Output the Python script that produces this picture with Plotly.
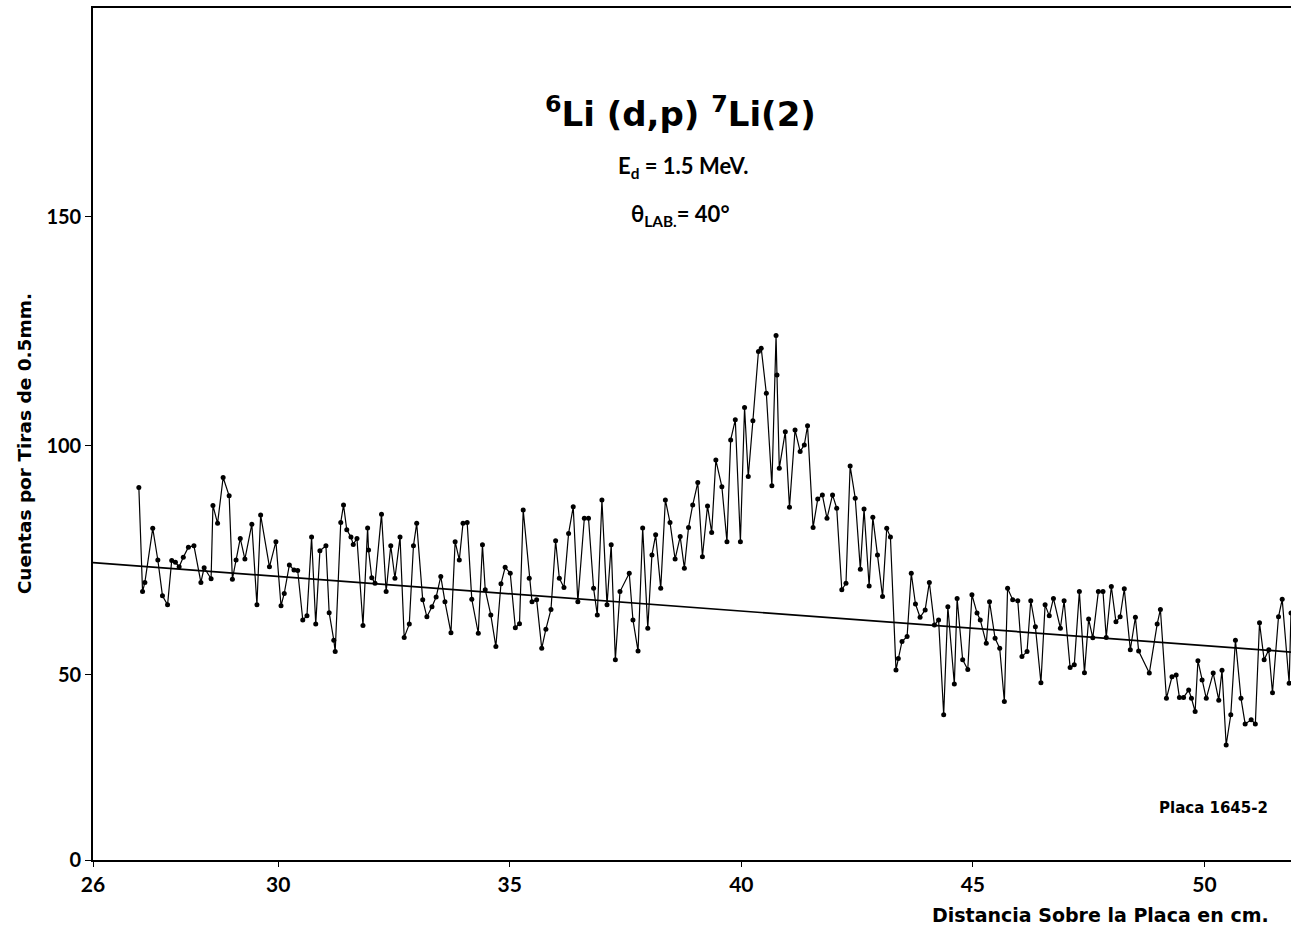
import plotly.graph_objects as go

# Position on the plate (cm) and counts per 0.5 mm strip
x_cm = [26.99, 27.07, 27.12, 27.29, 27.40, 27.50, 27.61, 27.70, 27.78, 27.86,
        27.95, 28.06, 28.18, 28.33, 28.40, 28.55, 28.59, 28.69, 28.81, 28.94,
        29.01, 29.09, 29.18, 29.28, 29.43, 29.54, 29.62, 29.81, 29.95, 30.06,
        30.13, 30.24, 30.34, 30.42, 30.53, 30.62, 30.72, 30.81, 30.90, 31.03,
        31.10, 31.20, 31.23, 31.35, 31.41, 31.48, 31.57, 31.62, 31.70, 31.83,
        31.93, 31.95, 32.02, 32.09, 32.23, 32.33, 32.43, 32.52, 32.63, 32.72,
        32.83, 32.92, 32.99, 33.12, 33.21, 33.32, 33.41, 33.51, 33.60, 33.73,
        33.82, 33.91, 33.99, 34.08, 34.18, 34.32, 34.41, 34.47, 34.59, 34.70,
        34.81, 34.90, 35.01, 35.12, 35.21, 35.29, 35.42, 35.48, 35.58, 35.69,
        35.78, 35.89, 35.99, 36.07, 36.17, 36.27, 36.37, 36.47, 36.61, 36.70,
        36.81, 36.89, 36.99, 37.10, 37.19, 37.28, 37.38, 37.58, 37.66, 37.77,
        37.87, 37.98, 38.07, 38.15, 38.26, 38.36, 38.46, 38.57, 38.68, 38.77,
        38.86, 38.95, 39.06, 39.16, 39.27, 39.36, 39.45, 39.58, 39.69, 39.77,
        39.87, 39.98, 40.07, 40.15, 40.25, 40.37, 40.43, 40.54, 40.66, 40.75,
        40.77, 40.82, 40.95, 41.04, 41.16, 41.27, 41.36, 41.43, 41.55, 41.65,
        41.75, 41.85, 41.97, 42.06, 42.17, 42.26, 42.35, 42.46, 42.57, 42.65,
        42.76, 42.84, 42.94, 43.05, 43.14, 43.22, 43.34, 43.39, 43.47, 43.58,
        43.67, 43.76, 43.86, 43.97, 44.06, 44.17, 44.26, 44.37, 44.46, 44.60,
        44.66, 44.78, 44.89, 44.98, 45.09, 45.16, 45.29, 45.36, 45.48, 45.58,
        45.68, 45.75, 45.86, 45.97, 46.06, 46.17, 46.25, 46.35, 46.47, 46.56,
        46.65, 46.74, 46.89, 46.97, 47.10, 47.19, 47.30, 47.41, 47.50, 47.59,
        47.71, 47.81, 47.88, 47.99, 48.09, 48.18, 48.27, 48.40, 48.51, 48.58,
        48.81, 48.98, 49.05, 49.18, 49.30, 49.39, 49.46, 49.55, 49.66, 49.72,
        49.80, 49.86, 49.95, 50.04, 50.19, 50.31, 50.38, 50.47, 50.57, 50.67,
        50.79, 50.88, 51.01, 51.10, 51.19, 51.29, 51.39, 51.47, 51.60, 51.68,
        51.83, 51.87]

counts = [90.9, 68.2, 70.2, 82.0, 75.1, 67.3, 65.3, 75.0, 74.6, 73.6,
          75.7, 77.9, 78.2, 70.2, 73.4, 71.0, 87.0, 83.1, 93.1, 89.1,
          70.9, 75.1, 79.8, 75.3, 82.9, 65.3, 84.9, 73.6, 79.1, 65.1,
          67.8, 74.0, 72.9, 72.8, 62.0, 62.9, 80.1, 61.1, 77.1, 78.2,
          63.6, 57.6, 55.1, 83.3, 87.1, 81.7, 80.1, 78.5, 79.8, 60.8,
          82.1, 77.3, 71.2, 70.0, 85.1, 68.2, 78.2, 71.1, 80.1, 58.2,
          61.1, 78.2, 83.1, 66.4, 62.7, 64.9, 67.0, 71.5, 66.0, 59.2,
          79.1, 75.1, 83.1, 83.3, 66.5, 59.1, 78.4, 68.6, 63.1, 56.2,
          69.9, 73.5, 72.2, 60.3, 61.2, 86.0, 71.1, 66.0, 66.4, 55.8,
          60.0, 64.3, 79.3, 71.1, 69.1, 80.9, 86.7, 66.0, 84.2, 84.2,
          68.9, 63.1, 88.2, 65.3, 78.4, 53.3, 68.2, 72.2, 62.0, 55.2,
          82.1, 60.2, 76.2, 80.6, 68.9, 88.2, 83.3, 75.3, 80.2, 73.3,
          82.2, 87.1, 92.0, 75.8, 86.9, 81.1, 96.9, 91.1, 79.1, 101.3,
          105.7, 79.1, 108.4, 93.3, 105.5, 120.6, 121.3, 111.5, 91.3, 124.1,
          115.5, 95.1, 103.1, 86.6, 103.5, 98.8, 100.2, 104.4, 82.2, 88.4,
          89.3, 84.2, 89.3, 86.4, 68.6, 70.0, 95.6, 88.6, 73.1, 86.2,
          69.4, 84.4, 76.2, 67.1, 82.0, 80.1, 51.1, 53.6, 57.3, 58.4,
          72.2, 65.5, 62.6, 64.2, 70.2, 60.9, 62.0, 41.3, 64.9, 48.0,
          66.7, 53.3, 51.2, 67.5, 63.5, 62.0, 56.9, 66.0, 58.0, 55.8,
          44.2, 68.9, 66.4, 66.2, 54.0, 55.1, 66.2, 60.5, 48.3, 65.3,
          62.9, 66.7, 60.2, 66.2, 51.6, 52.2, 68.2, 50.5, 62.2, 58.1,
          68.2, 68.2, 58.2, 69.3, 61.6, 62.7, 68.8, 55.5, 62.6, 55.2,
          50.4, 61.1, 64.3, 44.9, 49.6, 50.0, 45.1, 45.1, 46.7, 44.9,
          42.0, 53.1, 48.9, 44.9, 50.4, 44.5, 51.0, 34.7, 41.3, 57.6,
          44.9, 39.3, 40.2, 39.3, 61.4, 53.3, 55.5, 46.1, 62.7, 66.5,
          48.2, 63.5]

assert len(x_cm) == len(counts), (len(x_cm), len(counts))

# Background straight line (endpoints)
bg_x = [26.0, 51.87]
bg_y = [74.5, 55.0]

# Axis: the original has a compressed 0-50 segment; the baseline is labelled "0"
y_base = 9.6
y_tickvals = [y_base, 50, 100, 150]
y_ticktext = ["0", "50", "100", "150"]
x_tickvals = [26, 30, 35, 40, 45, 50]
x_ticktext = ["26", "30", "35", "40", "45", "50"]

FONT = "Lato"
WIDE = "DejaVu Sans"

fig = go.Figure()
fig.add_trace(go.Scatter(x=bg_x, y=bg_y, mode="lines",
                         line=dict(color="black", width=1.7),
                         hoverinfo="skip", showlegend=False))
fig.add_trace(go.Scatter(x=x_cm, y=counts, mode="lines+markers",
                         line=dict(color="black", width=1.2),
                         marker=dict(color="black", size=5),
                         showlegend=False))

fig.update_layout(
    width=1291, height=933,
    margin=dict(l=93, r=0, t=8, b=73),
    paper_bgcolor="white", plot_bgcolor="white",
    font=dict(family=FONT, color="black"),
    xaxis=dict(range=[26, 51.87], tickvals=x_tickvals, ticktext=x_ticktext,
               showgrid=False, zeroline=False, showline=True, linecolor="black",
               linewidth=1.6, mirror=True, ticks="outside", ticklen=5,
               tickcolor="black",
               tickfont=dict(family=FONT, size=21, weight="bold")),
    yaxis=dict(range=[y_base, 195.6], tickvals=y_tickvals, ticktext=y_ticktext,
               showgrid=False, zeroline=False, showline=True, linecolor="black",
               linewidth=1.6, ticks="outside", ticklen=6, tickcolor="black",
               tickfont=dict(family=FONT, size=20, weight="bold")),
)

ann = [
    dict(text="<sup>6</sup>Li (d,p) <sup>7</sup>Li(2)", x=0.49, y=0.878,
         font=dict(family=WIDE, size=34, weight="bold")),
    dict(text="E<sub>d</sub> = 1.5 MeV.", x=0.4925, y=0.813,
         font=dict(family=FONT, size=22, weight="bold")),
    dict(text="θ<sub>LAB.</sub>= 40°", x=0.49, y=0.757,
         font=dict(family=FONT, size=22, weight="bold")),
    dict(text="Placa 1645-2", x=0.935, y=0.061,
         font=dict(family=WIDE, size=15, weight="bold")),
    dict(text="Distancia Sobre la Placa en cm.", x=0.841, y=-0.065,
         font=dict(family=WIDE, size=19, weight="bold")),
    dict(text="Cuentas por Tiras de 0.5mm.", x=-0.0576, y=0.489, textangle=-90,
         font=dict(family=WIDE, size=18.5, weight="bold")),
]
for a in ann:
    fig.add_annotation(xref="paper", yref="paper", showarrow=False,
                       xanchor="center", yanchor="middle",
                       font_color="black", **a)

fig.write_html("out.html")
